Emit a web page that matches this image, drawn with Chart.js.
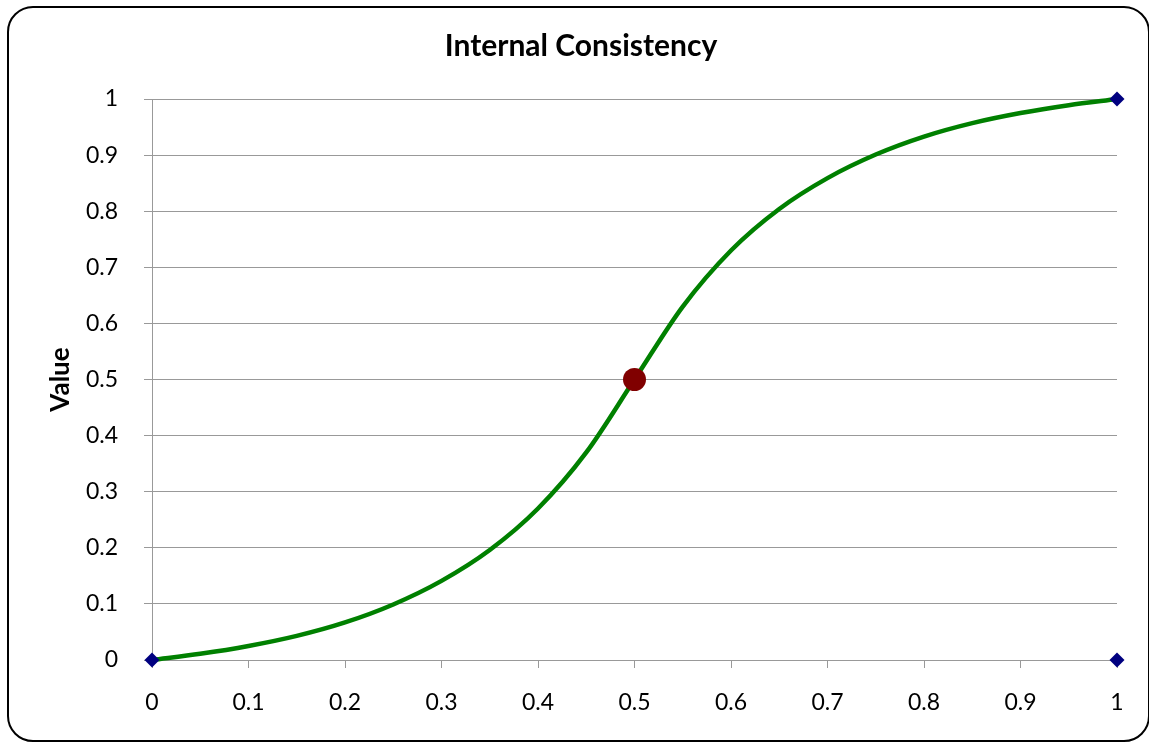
<!DOCTYPE html>
<html>
<head>
<meta charset="utf-8">
<script src="https://cdn.jsdelivr.net/npm/chart.js@4"></script>
<style>
  html, body { margin: 0; padding: 0; background: #fff; }
  #wrap { position: relative; width: 1149px; height: 744px; overflow: hidden; }
  #frame { position: absolute; left: 7px; top: 6px; width: 1139px; height: 732px;
           border: 2px solid #000; border-radius: 26px; pointer-events: none; }
</style>
</head>
<body>
<div id="wrap">
  <canvas id="chart" width="1149" height="744"></canvas>
  <div id="frame"></div>
</div>
<script>
// データ
const curveX = [0, 0.05, 0.1, 0.15, 0.2, 0.25, 0.3, 0.35, 0.4, 0.45, 0.5,
                0.55, 0.6, 0.65, 0.7, 0.75, 0.8, 0.85, 0.9, 0.95, 1];
const curveY = [0, 0.011, 0.025, 0.043, 0.067, 0.099, 0.141, 0.196, 0.27, 0.37, 0.5,
                0.63, 0.73, 0.804, 0.859, 0.901, 0.933, 0.957, 0.975, 0.989, 1];
const midX = [0.5];
const midY = [0.5];
const cornerX = [0, 1, 1];
const cornerY = [0, 1, 0];
const xTicks = [0, 0.1, 0.2, 0.3, 0.4, 0.5, 0.6, 0.7, 0.8, 0.9, 1];
const yTicks = [0, 0.1, 0.2, 0.3, 0.4, 0.5, 0.6, 0.7, 0.8, 0.9, 1];
const xTickLabels = ['0', '0.1', '0.2', '0.3', '0.4', '0.5', '0.6', '0.7', '0.8', '0.9', '1'];
const yTickLabels = ['0', '0.1', '0.2', '0.3', '0.4', '0.5', '0.6', '0.7', '0.8', '0.9', '1'];

const toPts = (xs, ys) => xs.map((x, i) => ({ x: x, y: ys[i] }));
const FONT = 'Lato, "Open Sans", sans-serif';
const GRID = '#999999';

new Chart(document.getElementById('chart'), {
    type: 'scatter',
    data: {
        datasets: [
            {
                data: toPts(midX, midY),
                pointStyle: 'circle',
                pointRadius: 11.5,
                backgroundColor: '#800000',
                borderColor: '#800000',
                borderWidth: 0,
                clip: false,
                order: 0
            },
            {
                data: toPts(cornerX, cornerY),
                pointStyle: 'rectRot',
                pointRadius: 7.5,
                backgroundColor: '#000080',
                borderColor: '#000080',
                borderWidth: 0,
                clip: false,
                order: 1
            },
            {
                data: toPts(curveX, curveY),
                showLine: true,
                cubicInterpolationMode: 'monotone',
                borderColor: '#008000',
                borderWidth: 4.5,
                pointRadius: 0,
                clip: false,
                order: 2
            }
        ]
    },
    options: {
        responsive: false,
        animation: false,
        // 左を広げてタイトルを右寄せ、y軸の幅で差し引く
        layout: { padding: { left: 45, right: 32, top: 0, bottom: 0 } },
        plugins: {
            legend: { display: false },
            tooltip: { enabled: false },
            title: {
                display: true,
                text: 'Internal Consistency',
                color: '#000',
                font: { family: FONT, size: 30, weight: 'bold' },
                padding: { top: 28, bottom: 35 }
            }
        },
        scales: {
            x: {
                type: 'linear',
                min: 0,
                max: 1,
                afterBuildTicks: s => { s.ticks = xTicks.map(v => ({ value: v })); },
                afterFit: s => { s.height = 84; },
                ticks: {
                    color: '#000',
                    font: { family: FONT, size: 23 },
                    padding: 21,
                    maxRotation: 0,
                    callback: (v, i) => xTickLabels[i]
                },
                grid: { drawOnChartArea: false, drawTicks: true, tickLength: 8, color: GRID },
                border: { display: false }
            },
            y: {
                type: 'linear',
                min: 0,
                max: 1,
                afterBuildTicks: s => { s.ticks = yTicks.map(v => ({ value: v })); },
                afterFit: s => { s.width = 107; },
                ticks: {
                    color: '#000',
                    font: { family: FONT, size: 23 },
                    padding: 26,
                    callback: (v, i) => yTickLabels[i]
                },
                grid: { color: GRID, tickLength: 8 },
                border: { display: true, color: GRID },
                title: {
                    display: true,
                    text: 'Value',
                    color: '#000',
                    font: { family: FONT, size: 26, weight: 'bold' },
                    padding: { top: 0, bottom: 0 }
                }
            }
        }
    }
});
</script>
</body>
</html>
